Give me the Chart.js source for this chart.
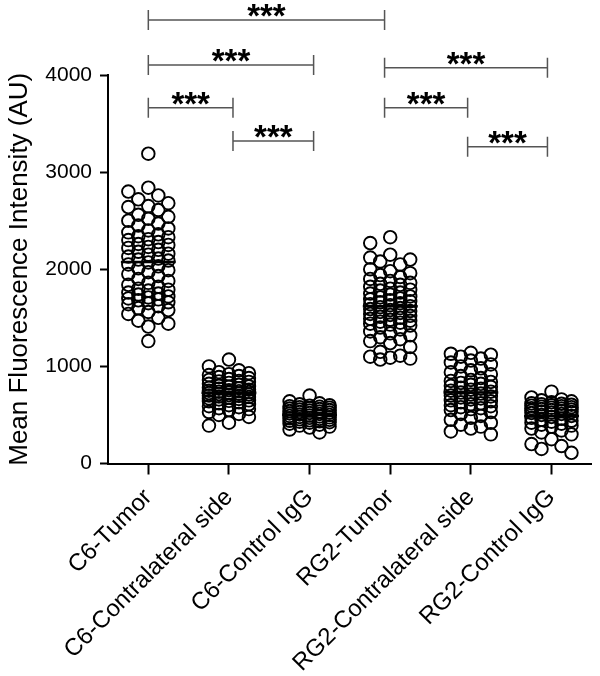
<!DOCTYPE html>
<html><head><meta charset="utf-8">
<script src="https://cdn.jsdelivr.net/npm/chart.js@4.4.0/dist/chart.umd.min.js"></script>
<style>html,body{margin:0;padding:0;background:#fff}#wrap{width:600px;height:676px;position:relative}</style>
</head><body><div id="wrap"><canvas id="c"></canvas></div>
<script>
// ---- data ----
const categories = ["C6-Tumor", "C6-Contralateral side", "C6-Control IgG", "RG2-Tumor", "RG2-Contralateral side", "RG2-Control IgG"];
const yTicks = [0, 1000, 2000, 3000, 4000];
const c6Tumor = [3190, 2840, 2800, 2760, 2720, 2680, 2650, 2640, 2610, 2560, 2540, 2520, 2500, 2470, 2450, 2420, 2400, 2380, 2360, 2340, 2330, 2310, 2300, 2280, 2260, 2250, 2230, 2220, 2200, 2180, 2160, 2150, 2130, 2110, 2100, 2090, 2070, 2050, 2030, 2010, 1990, 1970, 1950, 1930, 1900, 1880, 1860, 1840, 1820, 1800, 1790, 1780, 1760, 1750, 1740, 1720, 1710, 1700, 1690, 1680, 1660, 1650, 1640, 1620, 1600, 1580, 1560, 1540, 1500, 1470, 1440, 1410, 1260];
const c6Contra = [1070, 1000, 960, 940, 930, 920, 910, 900, 890, 880, 870, 860, 850, 845, 840, 830, 820, 810, 800, 795, 790, 780, 775, 770, 760, 755, 750, 745, 740, 735, 730, 725, 720, 715, 710, 705, 700, 695, 690, 685, 680, 670, 665, 660, 650, 645, 640, 630, 620, 610, 600, 590, 580, 570, 560, 550, 530, 510, 500, 480, 420, 390];
const c6IgG = [700, 640, 620, 610, 600, 595, 590, 585, 580, 575, 570, 565, 560, 555, 550, 545, 540, 535, 530, 525, 520, 515, 510, 505, 500, 495, 490, 485, 480, 475, 470, 465, 460, 455, 450, 445, 440, 435, 430, 425, 420, 410, 400, 390, 380, 370, 350, 320];
const rg2Tumor = [2330, 2270, 2150, 2120, 2100, 2080, 2050, 2000, 1980, 1960, 1940, 1920, 1900, 1880, 1860, 1850, 1840, 1820, 1800, 1790, 1780, 1760, 1750, 1740, 1720, 1710, 1700, 1690, 1680, 1670, 1660, 1650, 1640, 1630, 1620, 1610, 1600, 1590, 1580, 1570, 1560, 1550, 1540, 1530, 1520, 1510, 1500, 1490, 1480, 1470, 1460, 1450, 1440, 1430, 1420, 1400, 1380, 1360, 1340, 1320, 1300, 1280, 1260, 1240, 1200, 1150, 1110, 1100, 1090, 1080, 1070];
const rg2Contra = [1140, 1130, 1120, 1100, 1080, 1060, 1040, 1020, 1000, 980, 960, 940, 920, 900, 880, 860, 850, 840, 830, 820, 810, 800, 790, 780, 770, 760, 750, 740, 730, 720, 710, 700, 690, 680, 670, 660, 650, 640, 630, 620, 610, 600, 590, 580, 570, 560, 550, 530, 510, 490, 470, 450, 420, 400, 380, 360, 330, 300];
const rg2IgG = [740, 680, 660, 650, 640, 630, 620, 615, 610, 605, 600, 595, 590, 585, 580, 575, 570, 565, 560, 555, 550, 545, 540, 535, 530, 525, 520, 510, 500, 490, 480, 470, 460, 450, 440, 430, 420, 410, 400, 390, 380, 360, 340, 320, 300, 250, 200, 180, 150, 110];
// significance brackets (category positions and heights in data units)
const bracketFrom  = [0,    0,    0,    1.05, 2.93, 2.93, 3.96];
const bracketTo    = [2.93, 2.05, 1.05, 2.05, 4.95, 3.96, 4.95];
const bracketLevel = [4565, 4103, 3664, 3321, 4075, 3664, 3260];
const bracketLabel = ["***", "***", "***", "***", "***", "***", "***"];

const groups = [c6Tumor, c6Contra, c6IgG, rg2Tumor, rg2Contra, rg2IgG];

// ---- beeswarm offsets (derived from values) ----
const PX_PER_CAT = 80.7, PX_PER_VAL = 388.5 / 4000, STEP = 10, DIAM = 12.5;
function swarm(vals, ci) {
  const placed = [];
  const sorted = vals.slice().sort((a, b) => b - a);
  const cands = [0, -1, 1, -2, 2];
  sorted.forEach(v => {
    const py = v * PX_PER_VAL;
    let best = 0, bestD = -1;
    for (const k of cands) {
      const px = k * STEP;
      let d = Infinity;
      for (const p of placed) d = Math.min(d, Math.hypot(p.px - px, p.py - py));
      if (d >= DIAM) { best = px; bestD = d; break; }
      if (d > bestD) { bestD = d; best = px; }
    }
    placed.push({ px: best, py, v });
  });
  return placed.map(p => ({ x: ci + p.px / PX_PER_CAT, y: p.v }));
}

const datasets = groups.map((g, i) => ({
  label: categories[i],
  data: swarm(g, i),
  pointRadius: 6.3,
  pointHoverRadius: 6.3,
  pointBorderWidth: 1.9,
  pointBorderColor: '#000',
  pointBackgroundColor: 'rgba(0,0,0,0)',
  showLine: false
}));

const meanPlugin = {
  id: 'means',
  afterDatasetsDraw(chart) {
    const { ctx, scales: { x, y } } = chart;
    ctx.save();
    ctx.strokeStyle = '#000';
    ctx.lineWidth = 2.5;
    groups.forEach((g, i) => {
      const m = g.reduce((a, b) => a + b, 0) / g.length;
      const py = y.getPixelForValue(m);
      ctx.beginPath();
      ctx.moveTo(x.getPixelForValue(i - 0.34), py);
      ctx.lineTo(x.getPixelForValue(i + 0.34), py);
      ctx.stroke();
    });
    ctx.restore();
  }
};

const bracketPlugin = {
  id: 'brackets',
  afterDraw(chart) {
    const { ctx, scales: { x, y } } = chart;
    ctx.save();
    bracketLevel.forEach((lv, i) => {
      const x1 = x.getPixelForValue(bracketFrom[i]);
      const x2 = x.getPixelForValue(bracketTo[i]);
      const py = y.getPixelForValue(lv);
      ctx.strokeStyle = '#555';
      ctx.lineWidth = 1.5;
      ctx.beginPath();
      ctx.moveTo(x1, py); ctx.lineTo(x2, py);
      ctx.moveTo(x1, py - 10); ctx.lineTo(x1, py + 10);
      ctx.moveTo(x2, py - 10); ctx.lineTo(x2, py + 10);
      ctx.stroke();
      ctx.fillStyle = '#000';
      ctx.font = 'bold 33px "Liberation Sans", Arial, sans-serif';
      ctx.textAlign = 'center';
      ctx.textBaseline = 'alphabetic';
      const m = ctx.measureText(bracketLabel[i]);
      ctx.fillText(bracketLabel[i], (x1 + x2) / 2, py - 3 - m.actualBoundingBoxDescent);
    });
    ctx.restore();
  }
};

const font = '"Liberation Sans", Arial, sans-serif';
new Chart(document.getElementById('c'), {
  type: 'scatter',
  data: { datasets },
  plugins: [meanPlugin, bracketPlugin],
  options: {
    responsive: true,
    maintainAspectRatio: false,
    animation: false,
    events: [],
    layout: { padding: { top: 75, right: 7, left: 0, bottom: 0 } },
    plugins: { legend: { display: false }, tooltip: { enabled: false } },
    scales: {
      x: {
        type: 'linear',
        min: -0.5, max: 5.5,
        afterBuildTicks: s => { s.ticks = categories.map((_, i) => ({ value: i })); },
        afterFit: s => { s.height = 212.5; },
        ticks: {
          autoSkip: false, minRotation: 45, maxRotation: 45, padding: 9,
          color: '#000', font: { family: font, size: 24 },
          callback: v => categories[v] ?? ''
        },
        grid: { drawOnChartArea: false, drawTicks: true, tickLength: 11, tickWidth: 2, tickColor: '#000' },
        border: { display: true, width: 2, color: '#000' }
      },
      y: {
        min: 0, max: 4000,
        afterBuildTicks: s => { s.ticks = yTicks.map(v => ({ value: v })); },
        afterFit: s => { s.width = 108; },
        ticks: { color: '#000', padding: 8, font: { family: font, size: 21 }, callback: v => String(v) },
        grid: { drawOnChartArea: false, drawTicks: true, tickLength: 8, tickWidth: 2, tickColor: '#000' },
        border: { display: true, width: 2, color: '#000' },
        title: { display: true, text: 'Mean Fluorescence Intensity (AU)', color: '#000', font: { family: font, size: 26 }, padding: { top: 4, bottom: 2 } }
      }
    }
  }
});
</script></body></html>
